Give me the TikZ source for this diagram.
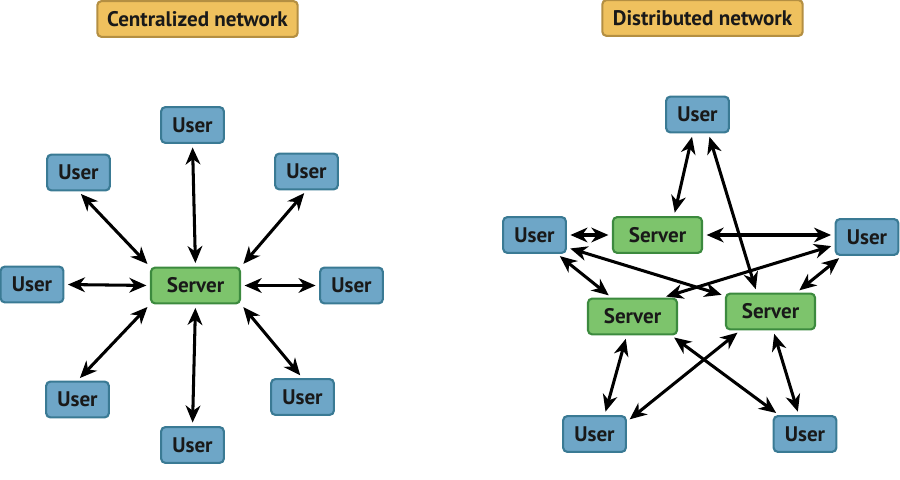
\documentclass[tikz,border=0pt]{standalone}
\usepackage{fontspec}
\setmainfont{PT Sans}
\usetikzlibrary{arrows.meta}

\definecolor{userfill}{RGB}{110,166,199}
\definecolor{userline}{RGB}{58,122,148}
\definecolor{serverfill}{RGB}{125,196,108}
\definecolor{serverline}{RGB}{60,138,62}
\definecolor{titlefill}{RGB}{239,193,94}
\definecolor{titleline}{RGB}{180,143,66}

\tikzset{
  box/.style={draw, line width=1.8pt, rounded corners=3.5pt, inner sep=0pt,
              minimum height=30.5pt, font=\fontsize{18}{20}\selectfont\bfseries,
              text=black!90},
  user/.style={box, fill=userfill, draw=userline, minimum width=53.5pt},
  server/.style={box, fill=serverfill, draw=serverline, minimum width=76pt},
  title/.style={box, fill=titlefill, draw=titleline, minimum width=171pt},
  link/.style={line width=2.6pt, {Stealth[length=14.5pt,width=12.5pt,inset=4.5pt]}-{Stealth[length=14.5pt,width=12.5pt,inset=4.5pt]},
               shorten <=3pt, shorten >=3pt}
}

\begin{document}
\begin{tikzpicture}[x=0.03cm, y=-0.03cm]

  \useasboundingbox (0,0) rectangle (900,480);

  % centralized network
  \node[title] (tc) at (197.5,19) {Centralized network};

  \node[server] (srv) at (195.5,285.5) {Server};
  \node[user] (uN)  at (192.5,125)   {User};
  \node[user] (uNW) at (78.5,172.5)  {User};
  \node[user] (uNE) at (306.5,171.5) {User};
  \node[user] (uW)  at (32,284.5)    {User};
  \node[user] (uE)  at (351.5,285.5) {User};
  \node[user] (uSW) at (77.5,399.5)  {User};
  \node[user] (uSE) at (302.5,397)   {User};
  \node[user] (uS)  at (192.5,445)   {User};

  \draw[link] (srv.north) -- (uN.south);
  \draw[link] (srv.north west) -- (uNW.south);
  \draw[link] (srv.north east) -- (uNE.south);
  \draw[link] (srv.west) -- (uW.east);
  \draw[link] (srv.east) -- (uE.west);
  \draw[link] (srv.south west) -- (uSW.north);
  \draw[link] (srv.south east) -- (uSE.north);
  \draw[link] (srv.south) -- (uS.north);

  % distributed network
  \node[title] (td) at (702.5,18) {Distributed network};

  \node[user] (uT)  at (697.5,114.5) {User};
  \node[user] (uL)  at (534.5,235)   {User};
  \node[user] (uR)  at (867,237)     {User};
  \node[user] (uBL) at (594.5,434)   {User};
  \node[user] (uBR) at (805,434)     {User};

  \node[server] (sT) at (657.5,235)   {Server};
  \node[server] (sL) at (632.5,316.5) {Server};
  \node[server] (sR) at (770.5,311.5) {Server};

  \draw[link] (uT.256) -- (sT.49);
  \draw[link] (uT.300) -- (sR.126);
  \draw[link] (uL.east) -- (sT.west);
  \draw[link] (sT.east) -- (sT.east -| uR.west);
  \draw[link] (uL.320) -- (sL.138);
  \draw[link] (uL.339) -- (sR.161);
  \draw[link] (uR.194) -- (sL.32);
  \draw[link] (uR.217) -- (sR.36);
  \draw[link] (sL.253) -- (uBL.62);
  \draw[link] (sR.212) -- (uBL.21);
  \draw[link] (sL.334) -- (uBR.144);
  \draw[link] (sR.278) -- (uBR.108);

\end{tikzpicture}
\end{document}
